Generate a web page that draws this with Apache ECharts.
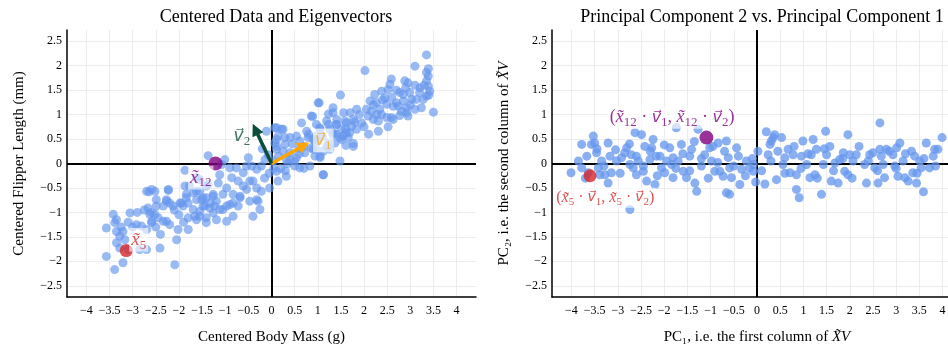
<!DOCTYPE html>
<html><head><meta charset="utf-8">
<script src="https://cdn.jsdelivr.net/npm/echarts@6/dist/echarts.min.js"></script>
<style>html,body{margin:0;padding:0;background:#fff;overflow:hidden}#c{width:964px;height:348px}</style>
</head><body><div id="c"></div>
<script>
const xTicks = [-4,-3.5,-3,-2.5,-2,-1.5,-1,-0.5,0,0.5,1,1.5,2,2.5,3,3.5,4];
const yTicks = [-2.5,-2,-1.5,-1,-0.5,0,0.5,1,1.5,2,2.5];

// Centered data (body mass, flipper length)
const centered = [
[-3.42,-1.04],[-3.35,-1.15],[-3.39,-1.21],[-3.57,-1.32],[-3.35,-1.39],[-3.21,-1.39],[-3.28,-1.49],[-3.06,-1.01],[-2.92,-1.25],[-2.81,-1.28],
[-2.70,-1.35],[-2.59,-1.21],[-3.17,-1.56],[-3.35,-1.62],[-3.28,-1.73],[-3.57,-1.90],[-3.21,-2.03],[-3.39,-2.17],[-3.10,-1.76],[-2.85,-1.76],
[-2.70,-1.76],[-2.41,-1.73],[-2.05,-1.56],[-2.09,-2.07],[-2.02,-1.35],[-1.80,-1.35],[-1.80,-1.11],[-1.62,-1.15],[-2.27,-0.74],[-2.20,-0.81],
[-2.34,-0.87],[-2.49,-0.87],[-2.67,-0.91],[-2.63,-1.04],[-2.52,-1.04],[-2.45,-1.11],[-2.59,-1.18],[-2.34,-1.18],[-2.27,-1.18],[-2.20,-1.25],
[-1.98,-0.81],[-1.91,-0.87],[-1.80,-0.81],[-1.62,-0.74],[-1.51,-0.74],[-1.41,-0.70],[-1.33,-0.81],[-1.44,-0.87],[-1.55,-0.98],[-1.66,-1.08],
[-1.41,-1.11],[-1.23,-0.87],[-1.26,-0.67],[-2.65,-0.58],[-2.52,-0.57],[-2.23,-0.55],[-1.77,-0.46],[-1.62,-0.57],[-1.84,-0.63],[-1.87,-0.14],
[-1.37,0.16],
[1.01,1.24],[0.86,0.97],[0.65,0.83],[0.97,0.80],[0.76,0.66],[0.54,0.56],[0.40,0.53],[0.61,0.46],[0.79,0.53],[0.94,0.46],
[0.86,0.32],[0.72,0.22],[0.94,0.15],[1.05,0.12],[1.12,-0.23],[1.19,0.35],[1.33,0.59],[1.41,0.80],[1.33,1.14],[-0.11,0.66],
[0.07,0.73],[0.22,0.70],[0.14,0.56],[0.07,0.42],[0.29,0.53],[0.29,0.39],[0.25,0.25],[0.11,0.29],[0.40,0.22],[0.54,0.12],
[0.32,0.08],[0.11,-0.16],[0.32,-0.26],[0.14,-0.36],[0.04,0.05],[-0.07,0.18],[-0.14,0.08],[-0.22,-0.05],[-0.32,-0.12],[-0.43,-0.05],
[-0.54,-0.05],[-0.50,0.12],[-0.61,-0.19],[-0.76,-0.09],[-0.90,-0.09],[-1.01,0.08],[-1.08,-0.02],[-1.12,-0.23],[-0.86,-0.29],[-0.72,-0.36],
[-0.61,-0.46],[-0.47,-0.36],[-0.32,-0.50],[-0.22,-0.57],[-0.04,-0.50],[-0.29,-0.77],[-0.47,-0.77],[-0.68,-0.70],[-0.83,-0.63],[-0.97,-0.50],
[-1.05,-0.63],[-1.19,-0.77],[-1.33,-0.91],[-1.48,-0.70],[-1.55,-0.57],[-1.37,-0.43],[-1.62,-0.29],[-1.15,-0.40],[-0.90,-0.84],[-0.72,-0.87],
[-1.05,-0.94],
[3.35,2.22],[3.10,1.99],[3.39,1.94],[3.35,1.86],[3.39,1.79],[3.35,1.69],[2.02,1.90],[2.59,1.73],[2.56,1.62],[2.52,1.51],
[2.88,1.69],[2.95,1.65],[3.21,1.55],[3.39,1.58],[3.42,1.48],[3.35,1.38],[3.28,1.31],[3.50,1.05],[2.38,1.48],[2.23,1.41],
[2.13,1.28],[2.27,1.24],[2.45,1.34],[2.49,1.21],[2.34,1.11],[2.77,1.45],[2.85,1.41],[2.99,1.45],[3.03,1.31],[2.85,1.28],
[2.70,1.24],[2.63,1.17],[2.74,1.17],[2.92,1.14],[2.81,1.07],[3.10,1.11],[3.24,1.14],[3.13,1.31],[2.05,1.11],[2.16,1.07],
[2.27,1.00],[2.38,1.00],[2.49,0.94],[2.59,0.94],[2.77,0.98],[2.95,0.97],[2.92,1.04],[2.09,0.97],[2.20,0.90],[2.31,0.87],
[2.63,0.90],[2.52,0.75],[2.31,0.66],[1.49,1.40],[1.03,1.24],[1.84,1.11],[1.70,1.04],[1.56,1.04],[1.77,0.90],[1.59,0.87],
[1.40,0.80],[1.51,0.70],[1.73,0.76],[1.84,0.70],[1.95,0.83],[1.62,0.63],[1.66,0.53],[1.77,0.41],[1.55,0.56],[1.37,0.42],
[1.26,0.70],[1.23,1.01],[1.19,0.87],[1.04,0.73],[0.97,0.56],[1.01,0.46],[0.90,0.29],[1.12,0.25],[1.22,0.32],[1.51,0.49],
[1.61,0.37],[0.89,0.96],
[-2.59,-0.53],[-2.70,-0.57],[-2.23,-0.53],[-2.49,-0.74],[-2.27,-0.77],[-2.13,-0.87],[-1.95,-0.81],[-1.84,-0.70],[-1.69,-0.60],[-1.87,-0.46],
[-1.55,-0.33],[-1.41,-0.46],[-1.26,-0.63],[-1.48,-0.87],[-1.69,-0.94],[-1.55,-1.08],[-1.26,-1.01],[-1.12,-0.94],[-0.97,-0.87],[-0.83,-0.81],
[-0.68,-0.67],[-0.54,-0.53],[-0.40,-0.36],[-0.32,-0.74],[-0.25,-0.94],[-0.40,-1.08],[-0.83,-1.08],[-0.97,-1.18],[-1.19,-1.15],[-1.41,-1.21],
[0.11,0.73],[0.25,0.70],[0.11,0.49],[0.11,0.35],[0.40,0.08],[0.50,-0.05],[0.61,-0.09],[0.83,-0.05],[1.05,0.15],[0.97,0.29],
[0.90,0.49],[1.05,0.70],[1.23,0.80],[1.33,0.63],[1.23,0.42],[1.26,0.29],[1.48,0.05],[1.48,0.53],[1.69,0.63],[1.62,0.83],
[1.41,0.90],[1.33,1.04],[1.77,0.35],[1.12,-0.23],
[0.20,-0.10],[0.35,0.00],[0.50,0.05],[0.60,0.20],[0.70,0.35],[0.45,0.40],[0.15,0.15],[0.05,-0.10],[-0.05,-0.20],[-0.20,0.30],
[-0.15,-0.30],[0.70,-0.10],[0.30,-0.15],[-3.00,-1.30],[-3.10,-1.20],[-2.90,-1.00],[-2.75,-0.95],[-3.25,-1.30],[-2.60,-1.00],[-2.10,-0.95],
[-2.00,-1.05],[-1.90,-1.20],[-2.50,-1.30],[-2.40,-1.45],[2.40,1.30],[2.60,1.35],[3.00,1.20],[3.20,1.45],[3.30,1.60],[2.70,1.50],
[2.20,1.20],[1.90,1.00],[1.80,0.85],[2.00,0.75],[2.10,0.60],[1.60,0.70],[1.40,0.60],[1.10,0.55],[0.80,0.60],[0.60,0.30],
[3.40,1.40],[3.10,1.60],[2.90,1.55]
];

// Projected data (PC1, PC2)
const projected = [
[-4.01,-0.19],[-3.78,-0.09],[-3.78,0.39],[-3.67,0.15],[-3.64,-0.19],[-3.57,0.39],[-3.53,0.56],[-3.50,0.42],[-3.46,0.22],[-3.42,-0.09],
[-3.35,0.05],[-3.39,-0.23],[-3.21,0.42],[-3.17,0.15],[-3.21,-0.40],[-3.14,-0.19],[-3.28,-0.23],[-3.03,0.05],[-2.92,0.12],[-2.85,0.22],
[-2.81,0.32],[-2.74,-0.02],[-2.71,0.18],[-2.63,0.63],[-2.56,0.05],[-2.49,0.59],[-2.60,-0.23],[-2.45,-0.16],[-2.42,0.35],[-2.38,-0.36],
[-2.31,0.08],[-2.27,0.32],[-2.24,0.49],[-2.20,-0.43],[-2.17,0.15],[-2.09,0.15],[-2.06,-0.09],[-1.99,-0.19],[-1.88,0.32],[-1.84,-0.02],
[-1.81,-0.29],[-1.81,0.12],[-1.74,0.73],[-1.70,0.05],[-1.63,0.39],[-1.59,-0.16],[-1.52,-0.29],[-1.45,0.15],[-1.41,0.29],[-1.34,-0.40],
[-1.30,-0.57],[-1.27,0.70],[-1.20,-0.05],[-1.13,0.18],[-1.02,0.32],[-0.98,0.05],[-0.91,-0.16],[-0.84,0.42],[-0.80,-0.16],[-0.73,-0.26],
[-0.66,0.46],[-0.62,0.12],[-0.59,-0.09],[-0.55,-0.29],[-0.66,-0.60],[-0.59,-0.63],[-0.44,0.32],[-0.37,-0.43],[-0.33,-0.12],[-0.23,0.05],
[-0.16,-0.09],[-0.08,-0.16],[-2.74,-0.94],[-2.67,-0.09],
[-0.03,-0.38],[-0.08,-0.02],[0.02,0.25],[0.17,-0.42],[0.20,0.65],[0.24,0.18],[0.28,0.39],[0.31,0.46],[0.35,0.53],[0.38,0.59],
[0.42,-0.33],[0.53,0.53],[0.56,-0.02],[0.60,0.12],[0.67,0.29],[0.71,-0.19],[0.78,0.18],[0.85,-0.23],[0.85,-0.53],[0.91,-0.70],
[0.96,0.15],[0.99,0.46],[1.07,-0.02],[1.14,-0.29],[1.17,0.18],[1.21,0.49],[1.25,-0.23],[1.28,0.29],[1.39,-0.63],[1.43,-0.02],
[1.48,0.66],[1.50,0.18],[1.57,0.35],[1.60,-0.36],[1.68,0.01],[1.75,-0.40],[1.78,0.08],[1.86,0.22],[1.89,-0.16],[1.96,0.59],
[1.96,-0.23],[2.00,0.18],[2.07,0.05],[2.14,0.18],[2.32,-0.02],[2.36,-0.40],[2.43,0.18],[2.50,0.22],[2.54,-0.09],[2.61,-0.40],
[2.65,0.83],[2.65,0.29],[2.68,0.15],[2.72,-0.02],[2.75,-0.29],[2.79,0.29],[2.93,0.18],[2.97,-0.05],[3.01,0.32],[3.04,-0.26],
[3.08,0.42],[3.15,0.05],[3.19,-0.29],[3.26,-0.36],[3.33,0.25],[3.36,-0.19],[3.40,0.15],[3.44,-0.40],[3.51,0.05],[3.54,-0.09],
[3.59,-0.58],[3.65,0.42],[3.72,-0.09],[3.80,0.15],[3.83,0.29],[3.90,0.29],[3.99,0.53],
[-3.85,0.05],[-3.70,-0.30],[-3.45,0.30],[-3.30,-0.05],[-3.05,0.28],[-2.95,-0.20],[-2.75,0.40],[-2.60,0.15],[-2.45,-0.05],[-2.30,0.25],
[-2.15,-0.25],[-2.00,0.38],[-1.95,0.05],[-1.75,-0.10],[-1.60,0.20],[-1.45,-0.15],[-1.35,0.45],[-1.20,0.10],[-1.05,-0.30],[-0.95,0.35],
[-0.85,0.02],[-0.70,0.25],[-0.50,-0.05],[-0.40,0.15],[-0.25,-0.25],[-0.10,0.10],[0.10,-0.15],[0.30,0.05],[0.45,0.25],[0.60,-0.20],
[0.80,0.35],[0.95,-0.10],[1.10,0.20],[1.30,-0.30],[1.45,0.30],[1.65,-0.15],[1.85,0.10],[2.05,-0.30],[2.20,0.35],[2.40,0.05],
[2.60,-0.15],[2.85,0.25],[3.00,-0.10],[3.20,0.20],[3.45,-0.20],[3.60,0.10],[3.85,-0.05]
];

const x12 = [-1.21, 0.00];
const x5 = [-3.14, -1.78];
const p12 = [-1.09, 0.53];
const p5 = [-3.60, -0.25];
const v1 = [0.70, 0.37];
const v2 = [-0.35, 0.70];

const FONT = "'Liberation Serif', 'DejaVu Serif', serif";
const VFONT = "'DejaVu Serif', 'DejaVu Sans', serif";
const PURPLE = '#800080', RED = '#d62728', ORANGE = '#FFA500', GREEN = '#0d4d3a', BLUE = '#6495ED';
const fmt = v => (v < 0 ? '\u2212' + Math.abs(v) : String(v));

function richLabel(text, color, size, bg) {
  return {
    show: true, position: 'inside', formatter: text,
    backgroundColor: bg || 'transparent', padding: bg ? [0, 2] : 0,
    rich: {
      m: { fontFamily: FONT, fontStyle: 'italic', fontSize: size, color: color, lineHeight: size * 1.25 },
      v: { fontFamily: VFONT, fontStyle: 'italic', fontSize: size - 2, color: color, lineHeight: size * 1.25 },
      r: { fontFamily: FONT, fontSize: size, color: color, lineHeight: size * 1.25 },
      s: { fontFamily: FONT, fontSize: Math.round(size * 0.7), color: color, verticalAlign: 'bottom', lineHeight: size * 0.9 }
    }
  };
}

function xAx(grid, name) {
  return {
    type: 'value', gridIndex: grid, min: -4.42, max: 4.42,
    name: name, nameLocation: 'middle', nameGap: 33,
    nameTextStyle: { fontFamily: FONT, fontSize: 15, color: '#000', rich: {
      r: { fontFamily: FONT, fontSize: 15, color: '#000' },
      m: { fontFamily: FONT, fontSize: 15, fontStyle: 'italic', color: '#000' } } },
    axisLine: { show: true, onZero: false, lineStyle: { color: '#000', width: 1.5 } },
    axisTick: { show: false, customValues: xTicks },
    axisLabel: { customValues: xTicks, formatter: fmt, fontFamily: FONT, fontSize: 12, color: '#000', margin: 8 },
    splitLine: { show: true, lineStyle: { color: '#ececec', width: 1 } }
  };
}
function yAx(grid, name) {
  return {
    type: 'value', gridIndex: grid, min: -2.73, max: 2.73,
    name: name, nameLocation: 'middle', nameGap: 40,
    nameTextStyle: { fontFamily: FONT, fontSize: 15, color: '#000', rich: {
      r: { fontFamily: FONT, fontSize: 15, color: '#000' },
      m: { fontFamily: FONT, fontSize: 15, fontStyle: 'italic', color: '#000' } } },
    axisLine: { show: true, onZero: false, lineStyle: { color: '#000', width: 1.5 } },
    axisTick: { show: false, customValues: yTicks },
    axisLabel: { customValues: yTicks, formatter: fmt, fontFamily: FONT, fontSize: 12, color: '#000', margin: 5 },
    splitLine: { show: true, lineStyle: { color: '#ececec', width: 1 } }
  };
}
function zeroLines(i) {
  return {
    type: 'scatter', xAxisIndex: i, yAxisIndex: i, data: [], silent: true, z: 1,
    markLine: { z: 1, silent: true, symbol: ['none', 'none'], animation: false,
      label: { show: false }, lineStyle: { color: '#000', width: 2, type: 'solid' },
      data: [{ xAxis: 0 }, { yAxis: 0 }] }
  };
}

const chart = echarts.init(document.getElementById('c'), null, { renderer: 'canvas' });
chart.setOption({
  animation: false,
  backgroundColor: '#fff',
  title: [
    { text: 'Centered Data and Eigenvectors', left: 271, top: 3, textAlign: 'center',
      textStyle: { fontFamily: FONT, fontSize: 18, fontWeight: 'normal', color: '#000' } },
    { text: 'Principal Component 2 vs. Principal Component 1', left: 757, top: 3, textAlign: 'center',
      textStyle: { fontFamily: FONT, fontSize: 18, fontWeight: 'normal', color: '#000' } }
  ],
  grid: [
    { left: 67, top: 30, width: 409, height: 267, outerBoundsMode: 'none', containLabel: false },
    { left: 552, top: 30, width: 410, height: 267, outerBoundsMode: 'none', containLabel: false }
  ],
  xAxis: [xAx(0, 'Centered Body Mass (g)'), xAx(1, '{r|PC₁, i.e. the first column of }{m|X̃V}')],
  yAxis: [yAx(0, 'Centered Flipper Length (mm)'), yAx(1, '{r|PC₂, i.e. the second column of }{m|X̃V}')],
  series: [
    zeroLines(0), zeroLines(1),
    { type: 'scatter', xAxisIndex: 0, yAxisIndex: 0, data: centered, symbolSize: 9, z: 2,
      itemStyle: { color: BLUE, opacity: 0.65 } },
    { type: 'scatter', xAxisIndex: 1, yAxisIndex: 1, data: projected, symbolSize: 9, z: 2,
      itemStyle: { color: BLUE, opacity: 0.75 } },
    { type: 'scatter', xAxisIndex: 0, yAxisIndex: 0, data: [], z: 3,
      markLine: { z: 3, silent: true, symbol: ['none', 'triangle'], symbolSize: 12, animation: false,
        label: { show: false },
        data: [
          [{ coord: [0, 0], lineStyle: { color: ORANGE, width: 3.5, type: 'solid' }, itemStyle: { color: ORANGE } }, { coord: v1 }],
          [{ coord: [0, 0], lineStyle: { color: GREEN, width: 3.5, type: 'solid' }, itemStyle: { color: GREEN } }, { coord: v2 }]
        ] } },
    { type: 'scatter', xAxisIndex: 0, yAxisIndex: 0, z: 4,
      data: [{ value: x12, symbolSize: 14, itemStyle: { color: PURPLE } },
             { value: x5, symbolSize: 13, itemStyle: { color: RED } }] },
    { type: 'scatter', xAxisIndex: 1, yAxisIndex: 1, z: 4,
      data: [{ value: p12, symbolSize: 14, itemStyle: { color: PURPLE } },
             { value: p5, symbolSize: 13, itemStyle: { color: RED } }] },
    { type: 'scatter', xAxisIndex: 0, yAxisIndex: 0, z: 5, symbolSize: 0, silent: true,
      data: [
        { value: [-0.64, 0.56], label: richLabel('{v|v⃗}{s|2}', GREEN, 19) },
        { value: [1.12, 0.47], label: richLabel('{v|v⃗}{s|1}', '#f5a623', 19, 'rgba(255,255,255,0.85)') },
        { value: [-1.53, -0.29], label: richLabel('{m|x̃}{s|12}', PURPLE, 19, 'rgba(255,255,255,0.75)') },
        { value: [-2.87, -1.56], label: richLabel('{m|x̃}{s|5}', RED, 19, 'rgba(255,255,255,0.75)') }
      ] },
    { type: 'scatter', xAxisIndex: 1, yAxisIndex: 1, z: 5, symbolSize: 0, silent: true,
      data: [
        { value: [-1.83, 0.94], label: richLabel('{r|(}{m|x̃}{s|12}{r| · }{v|v⃗}{s|1}{r|, }{m|x̃}{s|12}{r| · }{v|v⃗}{s|2}{r|)}', PURPLE, 18, 'rgba(255,255,255,0.8)') },
        { value: [-3.27, -0.70], label: richLabel('{r|(}{m|x̃}{s|5}{r| · }{v|v⃗}{s|1}{r|, }{m|x̃}{s|5}{r| · }{v|v⃗}{s|2}{r|)}', RED, 16, 'rgba(255,255,255,0.8)') }
      ] }
  ]
});
</script></body></html>
